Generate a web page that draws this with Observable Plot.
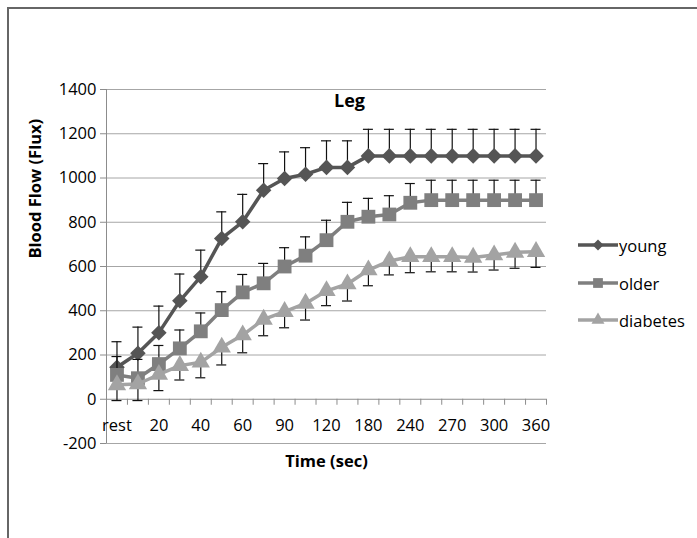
<!DOCTYPE html>
<html>
<head>
<meta charset="utf-8">
<script src="https://cdn.jsdelivr.net/npm/d3@7"></script>
<script src="https://cdn.jsdelivr.net/npm/@observablehq/plot@0.6"></script>
<style>
  html, body { margin: 0; padding: 0; background: #fff; }
  #wrap { position: relative; width: 697px; height: 538px; overflow: hidden; font-family: "Open Sans", sans-serif; }
  #border { position: absolute; left: 7px; top: 7px; right: -10px; bottom: -10px; border-left: 2px solid #666; border-top: 2px solid #666; }
  #chart { position: absolute; left: 0; top: 0; }
  .leg { position: absolute; display: flex; align-items: center; font-size: 16.5px; color: #000; }
  .leg svg { display: block; margin-right: 1px; }
</style>
</head>
<body>
<div id="wrap">
  <div id="border"></div>
  <div id="chart"></div>
</div>
<script>
const categories = ["rest","10","20","30","40","50","60","75","90","105","120","150","180","210","240","255","270","285","300","330","360"];
const yTicks = [-200, 0, 200, 400, 600, 800, 1000, 1200, 1400];

const young    = [145, 208, 301, 445, 554, 727, 802, 945, 998, 1017, 1048, 1048, 1100, 1100, 1100, 1100, 1100, 1100, 1100, 1100, 1100];
const youngErr = [115, 118, 120, 121, 120, 120, 124, 120, 120, 120, 120, 120, 120, 120, 120, 120, 120, 120, 120, 120, 120];

const older    = [110, 95, 159, 230, 307, 403, 483, 524, 600, 649, 719, 802, 825, 835, 888, 900, 900, 900, 900, 900, 900];
const olderErr = [83, 85, 84, 83, 83, 83, 81, 90, 85, 85, 90, 88, 83, 85, 87, 90, 90, 90, 90, 90, 90];

const diabetes    = [65, 69, 112, 152, 167, 235, 290, 361, 396, 433, 490, 521, 584, 625, 644, 644, 644, 641, 652, 664, 667];
const diabetesErr = [71, 75, 73, 65, 70, 80, 80, 74, 73, 75, 67, 77, 71, 63, 72, 68, 68, 66, 68, 72, 71];

const seriesNames = ["young", "older", "diabetes"];
const seriesColors = {young: "#555555", older: "#7f7f7f", diabetes: "#a3a3a3"};
const seriesSymbols = {young: "diamond2", older: "square", diabetes: "triangle"};
const seriesR = {young: 7, older: 7.8, diabetes: 6.8};
const seriesErrDir = {young: 1, older: 1, diabetes: -1};

const seriesValues = {young, older, diabetes};
const seriesErrs = {young: youngErr, older: olderErr, diabetes: diabetesErr};

const rows = seriesNames.map(s => categories.map((c, i) => ({
  series: s, i, cat: c, value: seriesValues[s][i],
  end: seriesValues[s][i] + seriesErrDir[s] * seriesErrs[s][i]
})));

const boundaries = d3.range(categories.length + 1).map(i => i - 0.5);
const labelIdx = d3.range(0, categories.length, 2);

const marks = [
  Plot.ruleY(yTicks.filter(v => v !== 0), {stroke: "#a6a6a6", strokeWidth: 1}),
  Plot.ruleX([-0.5], {stroke: "#8c8c8c", strokeWidth: 1}),
  Plot.axisY({ticks: yTicks, tickSize: 6, tickPadding: 4, fontSize: 16.5, stroke: "#8c8c8c", fill: "#000", label: null, tickFormat: d => String(d)}),
  Plot.ruleY([0], {stroke: "#8c8c8c", strokeWidth: 1}),
  Plot.ruleX(boundaries, {x: d => d, y1: 0, y2: 0, insetBottom: -6, stroke: "#8c8c8c"}),
  Plot.text(labelIdx, {x: d => d, y: 0, dy: 26, text: d => categories[d], fontSize: 16.5, fill: "#000"})
];

rows.forEach((data, k) => {
  const s = seriesNames[k];
  const col = seriesColors[s];
  marks.push(
    Plot.ruleX(data, {x: "i", y1: "value", y2: "end", stroke: "#111", strokeWidth: 1.2}),
    Plot.ruleY(data, {y: "end", x1: "i", x2: "i", insetLeft: -5, insetRight: -5, stroke: "#111", strokeWidth: 1.2}),
    Plot.line(data, {x: "i", y: "value", stroke: col, strokeWidth: 3.5, curve: "linear"}),
    Plot.dot(data, {x: "i", y: "value", symbol: () => seriesSymbols[s], r: seriesR[s], fill: col, stroke: "none"})
  );
});

marks.push(
  Plot.text(["Leg"], {frameAnchor: "top", dx: 23, dy: 12, lineAnchor: "middle", fontWeight: "bold", fontSize: 18, fill: "#000"}),
  Plot.text(["Time (sec)"], {frameAnchor: "bottom", dy: 18, lineAnchor: "middle", fontWeight: "bold", fontSize: 16.5, fill: "#000"}),
  Plot.text(["Blood Flow (Flux)"], {frameAnchor: "left", dx: -71, dy: -8, rotate: -90, fontWeight: "bold", fontSize: 16.5, fill: "#000"})
);

const chart = Plot.plot({
  width: 697, height: 538,
  marginTop: 89, marginBottom: 95, marginLeft: 106, marginRight: 151,
  style: {fontFamily: "Open Sans, sans-serif", fontSize: "16.5px", color: "#000", background: "transparent", overflow: "visible"},
  x: {domain: [-0.5, categories.length - 0.5], axis: null},
  y: {domain: [-200, 1400], axis: null},
  symbol: {type: "identity"},
  marks
});
document.getElementById("chart").appendChild(chart);

// legend
const legendTop = {young: 245, older: 283, diabetes: 320};
const wrap = document.getElementById("wrap");
seriesNames.forEach(s => {
  const div = document.createElement("div");
  div.className = "leg";
  div.style.left = "578px";
  div.style.top = (legendTop[s] - 12) + "px";
  div.style.height = "24px";
  const svg = d3.create("svg").attr("width", 40).attr("height", 24);
  svg.append("line").attr("x1", 0).attr("x2", 40).attr("y1", 12).attr("y2", 12)
    .attr("stroke", seriesColors[s]).attr("stroke-width", 3.5);
  const sym = {diamond2: d3.symbolDiamond2, square: d3.symbolSquare, triangle: d3.symbolTriangle}[seriesSymbols[s]];
  const size = Math.PI * seriesR[s] * seriesR[s] * 0.5;
  svg.append("path").attr("d", d3.symbol(sym, size)()).attr("transform", "translate(20,12)").attr("fill", seriesColors[s]);
  div.appendChild(svg.node());
  const span = document.createElement("span");
  span.textContent = s;
  div.appendChild(span);
  wrap.appendChild(div);
});
</script>
</body>
</html>
